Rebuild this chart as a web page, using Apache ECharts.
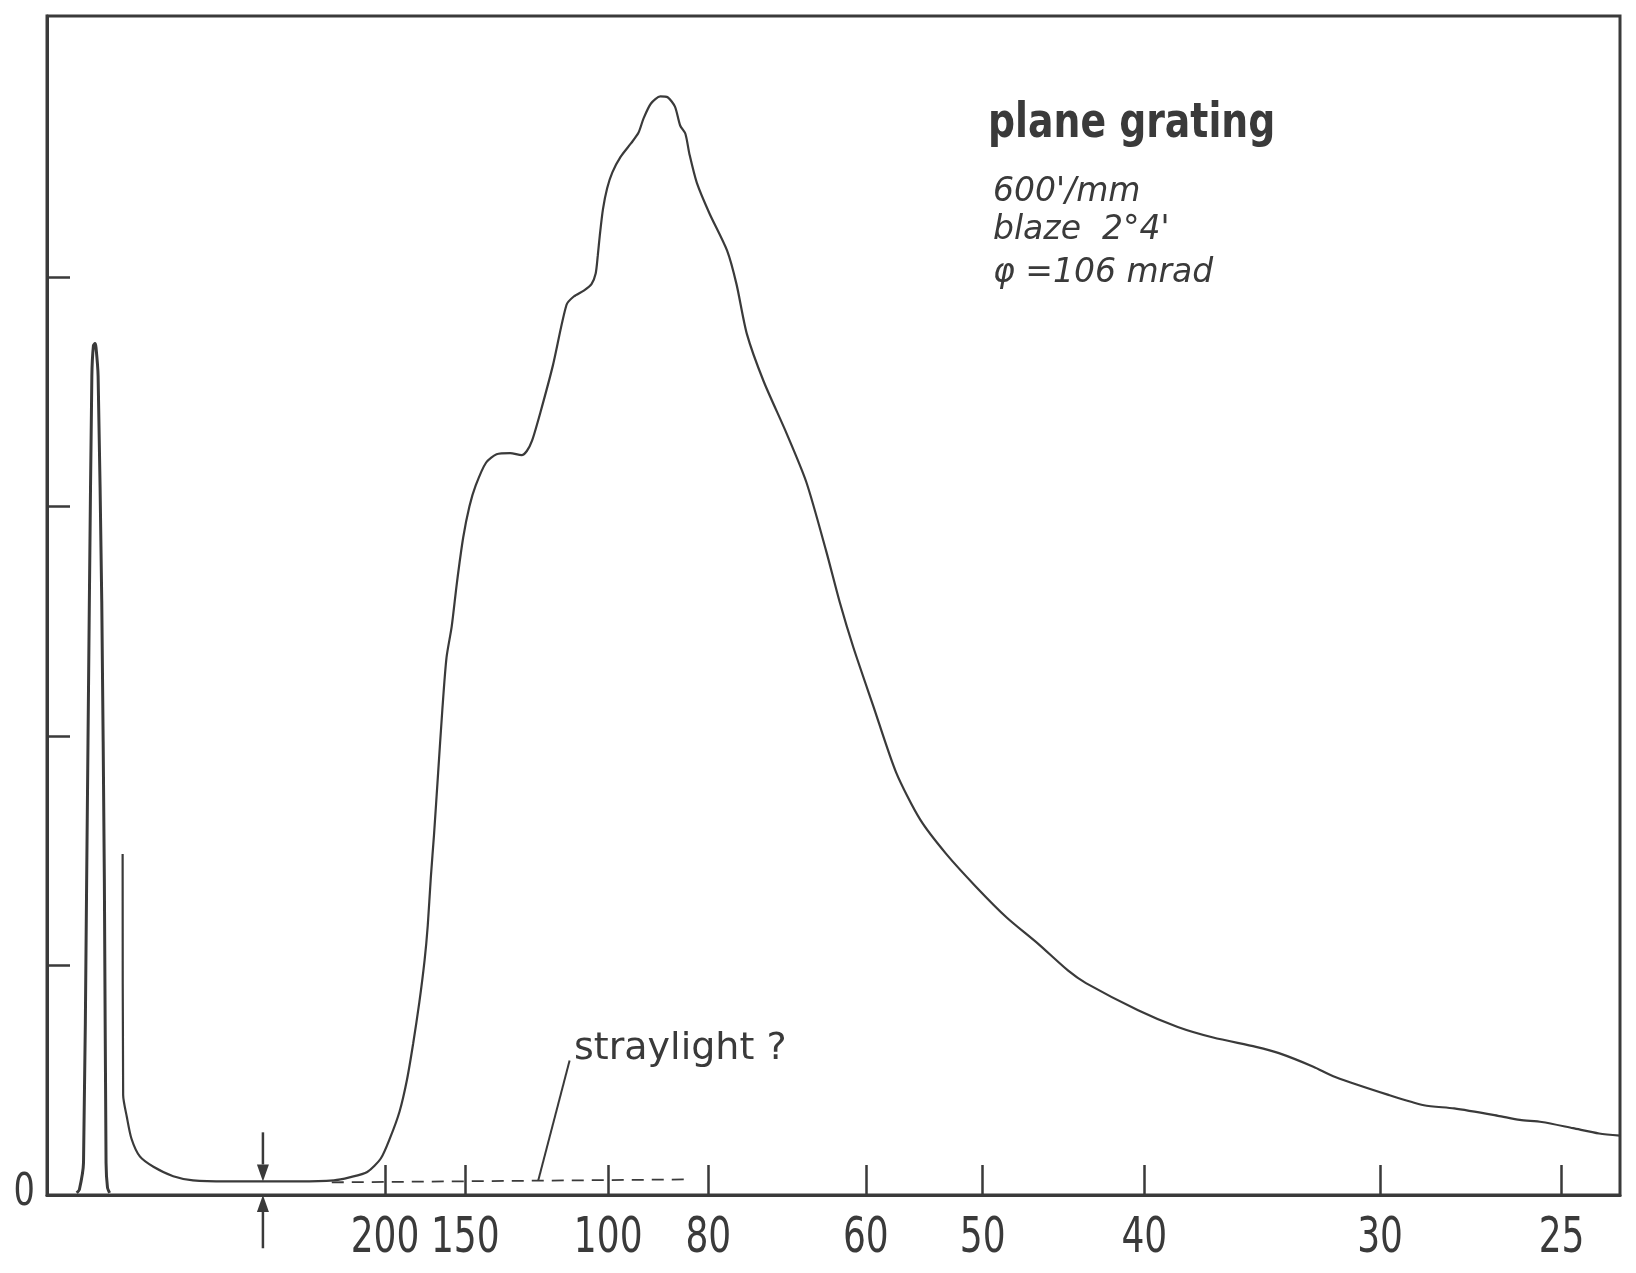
<!DOCTYPE html>
<html><head><meta charset="utf-8">
<script src="https://cdn.jsdelivr.net/npm/echarts@6/dist/echarts.min.js"></script>
<style>html,body{margin:0;padding:0;background:#fff}#c{width:1636px;height:1273px}</style>
</head><body><div id="c"></div>
<script>
// scan position (arbitrary recorder units) and intensity (arbitrary units, ticks at 1..4)
const zeroOrderX = [28.5, 31, 35, 38, 40.6, 43, 44.5, 46, 47, 49, 52.5, 55, 56.6, 58, 60];
const zeroOrderY = [0.009, 0.023, 0.141, 1.364, 2.586, 3.568, 3.700, 3.709, 3.691, 3.568, 2.586, 1.364, 0.141, 0.032, 0.009];

const scanX = [72.5, 73, 76.5, 81, 89, 102, 121, 140, 172, 204, 242, 275, 290, 307, 320, 329, 338, 345, 351, 357,
  362, 365, 368, 371, 375, 379, 383, 388, 393, 399, 405, 411, 421, 431, 444, 455, 460, 465, 473, 485,
  498, 505, 515, 522, 526, 528, 530, 533, 537, 542, 550, 560, 567, 572, 579, 588, 595, 602, 607, 612,
  616, 623, 635, 652, 661, 671, 687, 709, 728, 747, 760, 773, 792, 814, 837, 862, 891, 920, 950, 979,
  996, 1046, 1084, 1118, 1159, 1181, 1214, 1235, 1286, 1320, 1349, 1391, 1412, 1433, 1463, 1488, 1508];
const scanY = [1.486, 0.436, 0.341, 0.245, 0.168, 0.123, 0.082, 0.064, 0.059, 0.059, 0.059, 0.064, 0.077, 0.100, 0.159, 0.250, 0.364, 0.500, 0.659, 0.841,
  1.023, 1.173, 1.386, 1.568, 1.841, 2.114, 2.341, 2.477, 2.668, 2.864, 3.000, 3.091, 3.191, 3.227, 3.232, 3.223, 3.241, 3.286, 3.409, 3.614,
  3.877, 3.914, 3.941, 3.968, 4.014, 4.091, 4.182, 4.295, 4.386, 4.455, 4.523, 4.582, 4.627, 4.691, 4.755, 4.786, 4.782, 4.741, 4.659, 4.623,
  4.532, 4.409, 4.277, 4.114, 3.968, 3.750, 3.545, 3.318, 3.105, 2.805, 2.582, 2.386, 2.132, 1.841, 1.636, 1.486, 1.341, 1.209, 1.095, 0.977,
  0.923, 0.805, 0.732, 0.686, 0.645, 0.618, 0.559, 0.514, 0.436, 0.391, 0.377, 0.345, 0.327, 0.318, 0.291, 0.268, 0.259];

const straylightX = [273, 617];
const straylightY = [0.055, 0.068];

const tickPos = [324, 401, 538, 634, 785, 897, 1052, 1278, 1452];
const tickLabels = ['200', '150', '100', '80', '60', '50', '40', '30', '25'];
const yTicks = [1, 2, 3, 4];
const yLabelValue = 0;
const yLabelText = '0';

const darkLevelX = 207;
const darkLevelY = 0.059;
const leaderX = [471, 501];
const leaderY = [0.064, 0.586];

const titleText = 'plane grating';
const noteLines = ["600'/mm", "blaze  2°4'", "φ =106 mrad"];
const strayText = 'straylight ?';

const ink = '#3a3a3a';
const narrow = '"Liberation Sans Narrow", "DejaVu Sans Condensed", sans-serif';
const chart = echarts.init(document.getElementById('c'), null, {renderer: 'canvas'});

function zip(xs, ys) { return xs.map((x, i) => [x, ys[i]]); }

chart.setOption({
  animation: false,
  backgroundColor: '#fff',
  grid: {left: 47, right: 16, top: 16, bottom: 78, show: true, borderColor: ink, borderWidth: 3, backgroundColor: 'transparent'},
  xAxis: {
    type: 'value', min: 0, max: 1508,
    axisLine: {show: true, lineStyle: {color: ink, width: 3}},
    axisTick: {show: true, inside: true, length: 30, customValues: tickPos, lineStyle: {color: ink, width: 2.5}},
    axisLabel: {show: false},
    splitLine: {show: false}
  },
  yAxis: {
    type: 'value', min: 0, max: 5.136,
    axisLine: {show: true, lineStyle: {color: ink, width: 3}},
    axisTick: {show: true, inside: true, length: 23, customValues: yTicks, lineStyle: {color: ink, width: 2.5}},
    axisLabel: {show: false},
    splitLine: {show: false}
  },
  series: [
    {type: 'line', data: zip(zeroOrderX, zeroOrderY), showSymbol: false, smooth: 0.2,
      lineStyle: {color: ink, width: 3}},
    {type: 'line', data: zip(scanX, scanY), showSymbol: false, smooth: 0.25,
      lineStyle: {color: ink, width: 2.2}},
    {type: 'line', data: zip(straylightX, straylightY), showSymbol: false,
      lineStyle: {color: ink, width: 1.8, type: [12, 8]}},
    {type: 'line', data: zip(leaderX, leaderY), showSymbol: false,
      lineStyle: {color: ink, width: 2}}
  ]
});

const P = (x, y) => chart.convertToPixel({gridIndex: 0}, [x, y]);
function arrow(fromY, toY) {
  const a = P(darkLevelX, fromY), b = P(darkLevelX, toY);
  const dir = b[1] > a[1] ? 1 : -1;
  const headLen = 17, halfW = 6;
  return [
    {type: 'line', shape: {x1: a[0], y1: a[1], x2: b[0], y2: b[1] - dir * headLen}, style: {stroke: ink, lineWidth: 2.5}},
    {type: 'polygon', shape: {points: [[b[0], b[1]], [b[0] - halfW, b[1] - dir * headLen], [b[0] + halfW, b[1] - dir * headLen]]}, style: {fill: ink}}
  ];
}
const txt = (text, x, y, font) => ({type: 'text', style: {text, x, y, font, fill: ink,
  textAlign: 'left', textVerticalAlign: 'middle', align: 'left', verticalAlign: 'middle'}});
// text squeezed/stretched around its anchor
const scaledText = (text, px, py, font, sx, sy, align) => ({type: 'text', x: px, y: py, scaleX: sx, scaleY: sy,
  style: {text, x: 0, y: 0, font, fill: ink,
    textAlign: align, textVerticalAlign: 'middle', align: align, verticalAlign: 'middle'}});

const base = P(0, 0);
const xLabels = tickPos.map((v, i) => scaledText(tickLabels[i], P(v, 0)[0], base[1] + 44, '50px ' + narrow, 0.8, 1, 'center'));
const yLab = P(0, yLabelValue);

chart.setOption({
  graphic: [
    ...arrow(0.273, darkLevelY),
    ...arrow(-0.232, 0),
    ...xLabels,
    scaledText(yLabelText, yLab[0] - 12, yLab[1] - 1, '44px ' + narrow, 0.85, 1, 'right'),
    scaledText(titleText, 988, 124, 'bold 42px "DejaVu Sans Condensed", "DejaVu Sans", sans-serif', 1, 1.15, 'left'),
    txt(noteLines[0], 993, 192, 'italic 33px "DejaVu Sans", sans-serif'),
    txt(noteLines[1], 993, 230, 'italic 33px "DejaVu Sans", sans-serif'),
    txt(noteLines[2], 993, 273, 'italic 33px "DejaVu Sans", sans-serif'),
    txt(strayText, 574, 1049, '38px "DejaVu Sans", sans-serif')
  ]
});
</script></body></html>
